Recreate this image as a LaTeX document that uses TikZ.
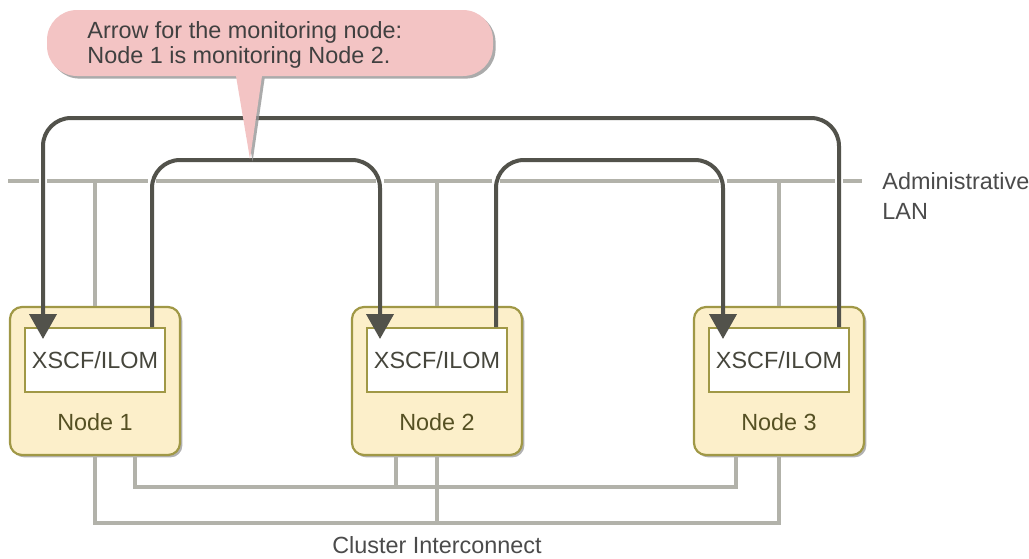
\documentclass[tikz,border=0pt]{standalone}
\usepackage{fontspec}
\setmainfont{Liberation Sans}
\usetikzlibrary{arrows.meta,calc,shadows}
\definecolor{calloutfill}{RGB}{243,196,196}
\definecolor{calloutshadow}{RGB}{150,150,150}
\definecolor{boxfill}{RGB}{252,239,202}
\definecolor{boxborder}{RGB}{160,152,70}
\definecolor{labeltext}{RGB}{85,80,35}
\definecolor{innertext}{RGB}{70,70,60}
\definecolor{arrowdark}{RGB}{82,82,75}
\definecolor{linegray}{RGB}{178,178,170}
\definecolor{plaintext}{RGB}{75,75,75}
\tikzset{
  nodebox/.style={draw=boxborder, fill=boxfill, line width=1.1pt, rounded corners=6pt,
    minimum width=85pt, minimum height=74pt, inner sep=0pt,
    drop shadow={shadow xshift=1.2pt, shadow yshift=-1.2pt, fill=black, opacity=0.3}},
  innerbox/.style={draw=boxborder, fill=white, line width=1pt, minimum width=70pt,
    minimum height=32pt, inner sep=0pt, text=innertext},
  nodelabel/.style={text=labeltext, inner sep=0pt},
  netline/.style={draw=linegray, line width=1.6pt},
  halo/.style={draw=white, line width=4pt},
  monarrow/.style={draw=arrowdark, line width=2pt, rounded corners=14pt,
    -{Triangle[length=12.5pt,width=13.5pt]}},
  plainlabel/.style={text=plaintext, inner sep=0pt},
}
\begin{document}
\begin{tikzpicture}[x=0.5pt,y=-0.5pt,font=\fontsize{11.7}{12.5}\selectfont]
\useasboundingbox (0,0) rectangle (1029,558);

% helper coordinates
\coordinate (lanL) at (8,181);
\coordinate (lanR) at (862,181);
\coordinate (topOuter) at (0,118);
\coordinate (topInner) at (0,160);
\coordinate (icA) at (0,487);
\coordinate (icB) at (0,523);

% administrative LAN
\draw[netline] (lanL) -- (lanR);

% node boxes
\node[nodebox] (n1) at (95,381) {};
\node[nodebox] (n2) at (437,381) {};
\node[nodebox] (n3) at (779,381) {};

% LAN drops
\draw[netline] (n1.north |- lanL) -- (n1.north);
\draw[netline] (n2.north |- lanL) -- (n2.north);
\draw[netline] (n3.north |- lanL) -- (n3.north);

% inner boxes
\node[innerbox] (x1) at (95,360) {XSCF/ILOM};
\node[innerbox] (x2) at (437,360) {XSCF/ILOM};
\node[innerbox] (x3) at (779,360) {XSCF/ILOM};

\node[nodelabel] (l1) at (95,422) {Node 1};
\node[nodelabel] (l2) at (437,422) {Node 2};
\node[nodelabel] (l3) at (779,422) {Node 3};

% arrow end points
\coordinate (s3) at ($(x3.north)+(60,0)$);
\coordinate (t1) at ($(x1.north)+(-52,12)$);
\coordinate (s1) at ($(x1.north)+(57,0)$);
\coordinate (t2) at ($(x2.north)+(-57,12)$);
\coordinate (s2) at ($(x2.north)+(59,0)$);
\coordinate (t3) at ($(x3.north)+(-56,12)$);

% white gaps in the LAN where the arrows cross it
\begin{scope}
  \clip (0,171) rectangle (1029,191);
  \draw[halo] (s3) -- (s3 |- topOuter);
  \draw[halo] (t1 |- topOuter) -- (t1);
  \draw[halo] (s1) -- (s1 |- topInner);
  \draw[halo] (t2 |- topInner) -- (t2);
  \draw[halo] (s2) -- (s2 |- topInner);
  \draw[halo] (t3 |- topInner) -- (t3);
\end{scope}

% monitoring arrows
\draw[monarrow] (s3) -- (s3 |- topOuter) -- (t1 |- topOuter) -- (t1);
\draw[monarrow] (s1) -- (s1 |- topInner) -- (t2 |- topInner) -- (t2);
\draw[monarrow] (s2) -- (s2 |- topInner) -- (t3 |- topInner) -- (t3);

% cluster interconnect
\coordinate (a1) at ($(n1.south)+(40,0)$);
\coordinate (a2) at ($(n2.south)+(-41,0)$);
\coordinate (a3) at ($(n3.south)+(-43,0)$);
\draw[netline] (a1) -- (a1 |- icA) -- (a3 |- icA) -- (a3);
\draw[netline] (a2) -- (a2 |- icA);
\draw[netline] (n1.south) -- (n1.south |- icB) -- (n3.south |- icB) -- (n3.south);
\draw[netline] (n2.south) -- (n2.south |- icB);

\node[plainlabel] (cil) at (437,545) {Cluster Interconnect};
\node[plainlabel, align=left, anchor=north west, font=\fontsize{11.7}{15}\selectfont] (lanl) at (882,172) {Administrative\\LAN};

% callout
\coordinate (tip) at (250,159);
\path[fill=calloutfill, drop shadow={shadow xshift=1.3pt, shadow yshift=-1.3pt, fill=calloutshadow, opacity=0.8}]
  (tip) -- (262,76) [rounded corners=15pt] -- (493,76) -- (493,10) -- (47,10) -- (47,76) [sharp corners] -- (236,76) -- cycle;
\node[plainlabel, align=left, anchor=west, text=black!75] (callout) at (87,45) {Arrow for the monitoring node:\\Node 1 is monitoring Node 2.};
\end{tikzpicture}
\end{document}
